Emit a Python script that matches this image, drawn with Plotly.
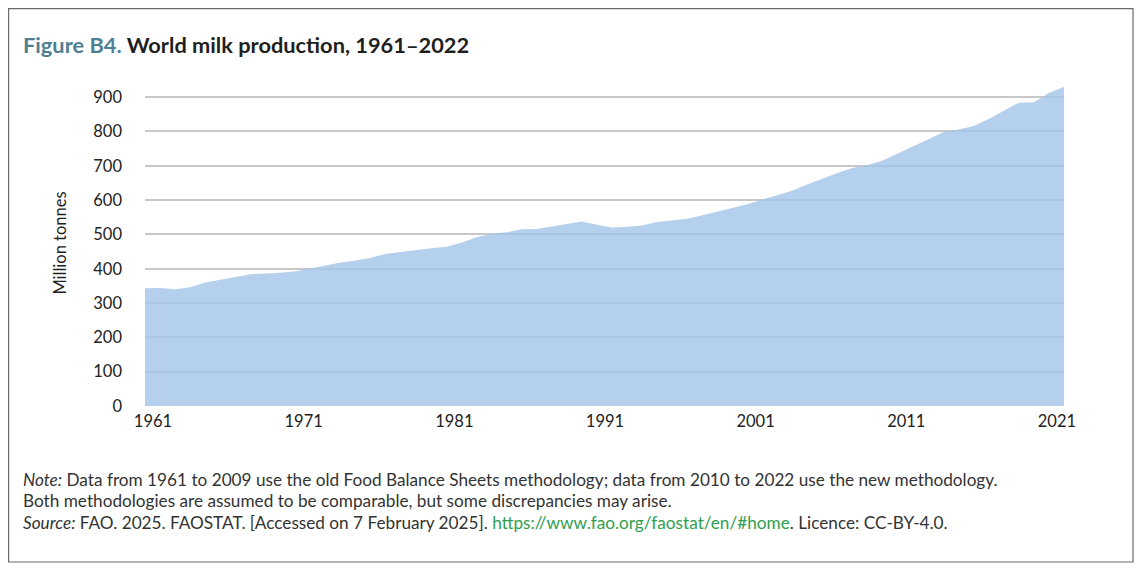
import plotly.graph_objects as go

# World milk production, million tonnes
years = list(range(1961, 2023))
milk = [
    343, 344, 340, 346, 360, 368, 376, 384, 386, 388,
    393, 402, 410, 418, 424, 432, 444, 450, 455, 460,
    464, 476, 492, 502, 506, 515, 516, 524, 532, 538,
    528, 520, 522, 526, 536, 542, 546, 556, 567, 576,
    588, 602, 614, 628, 646, 664, 680, 694, 702, 716,
    736, 758, 776, 798, 806, 816, 836, 860, 884, 885,
    912, 930,
]
x_ticks = [1961, 1971, 1981, 1991, 2001, 2011, 2021]
y_ticks = [0, 100, 200, 300, 400, 500, 600, 700, 800, 900]

FONT = "Source Sans Pro, Lato, Noto Sans, sans-serif"

# page body has an 8px margin, so everything below is laid out 8px up/left
OFF = 8
L, T, W, H = 145 - OFF, 80 - OFF, 919, 326

fig = go.Figure()
fig.add_scatter(
    x=years, y=milk, mode="lines", fill="tozeroy",
    line=dict(width=0, color="rgba(162,196,231,0.8)"),
    fillcolor="rgba(162,196,231,0.8)",
    hoverinfo="x+y", showlegend=False,
)

fig.update_xaxes(
    range=[1961, 2022], tickvals=x_ticks, showgrid=False, zeroline=False,
    showline=False, ticks="", ticklabelshift=8, ticklabelstandoff=3,
    tickfont=dict(size=16.5, color="#222", family=FONT),
)
fig.update_yaxes(
    range=[0, 950], tickvals=y_ticks, showgrid=True, gridcolor="#c8c8c8",
    gridwidth=1.5, zeroline=False, showline=False, ticks="",
    ticklabelstandoff=22,
    tickfont=dict(size=16.5, color="#222", family=FONT),
    title=dict(text="Million tonnes", standoff=22,
               font=dict(size=16.5, color="#222", family=FONT)),
)

# reference pixel position -> paper coords
def px(x):
    return (x - OFF - L) / W

def py(y):
    return (T + H - (y - OFF)) / H

title = ("<b><span style='color:#4f7f92'>Figure B4.</span> "
         "World milk production, 1961–2022</b>")
note1 = ("<i>Note:</i> Data from 1961 to 2009 use the old Food Balance Sheets "
         "methodology; data from 2010 to 2022 use the new methodology.")
note2 = "Both methodologies are assumed to be comparable, but some discrepancies may arise."
note3 = ("<i>Source:</i> FAO. 2025. FAOSTAT. [Accessed on 7 February 2025]. "
         "<span style='color:#2e9e4f'>https://www.fao.org/faostat/en/#home</span>. "
         "Licence: CC-BY-4.0.")

anns = [(title, 45, 21.8, "#1f1f1f"), (note1, 479, 17.2, "#333"),
        (note2, 500, 17.2, "#333"), (note3, 522, 17.2, "#333")]
for text, y, size, col in anns:
    fig.add_annotation(
        text=text, xref="paper", yref="paper", x=px(21), y=py(y),
        xanchor="left", yanchor="middle", showarrow=False,
        font=dict(size=size, color=col, family=FONT),
    )

fig.add_shape(
    type="rect", xref="paper", yref="paper",
    x0=px(OFF + 0.6), x1=px(1133), y0=py(562), y1=py(OFF + 0.6),
    line=dict(color="#6a6a6a", width=1.2), fillcolor="rgba(0,0,0,0)",
)

fig.update_layout(
    width=1142, height=569,
    margin=dict(l=L, r=1142 - L - W, t=T, b=569 - T - H),
    paper_bgcolor="white", plot_bgcolor="white",
    font=dict(family=FONT),
)

fig.write_html("out.html")
